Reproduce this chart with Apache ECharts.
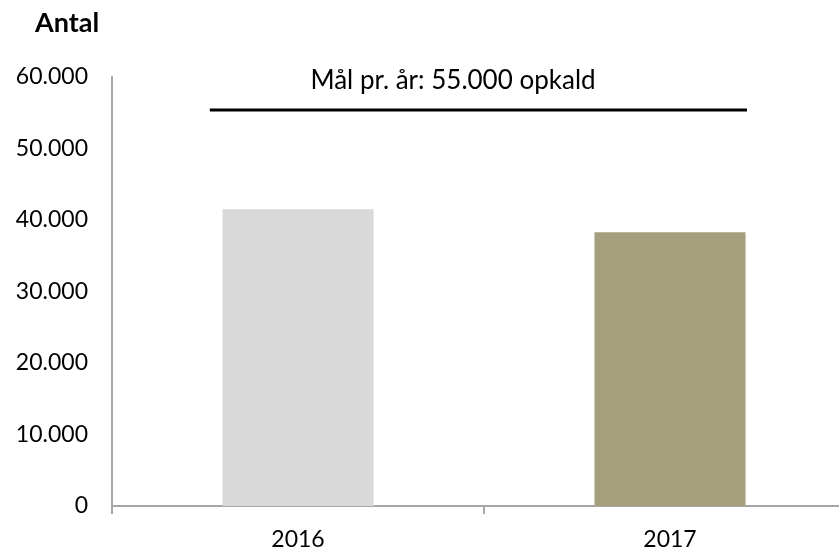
<!DOCTYPE html>
<html>
<head>
<meta charset="utf-8">
<script src="https://cdn.jsdelivr.net/npm/echarts@6/dist/echarts.min.js"></script>
<style>
    html, body { margin: 0; padding: 0; background: #fff; }
    #chart { width: 839px; height: 550px; }
</style>
</head>
<body>
<div id="chart"></div>
<script>
// data
var years = ['2016', '2017'];
var calls = [41500, 38300];
var barColors = ['#d9d9d9', '#a59f7d'];
var yTicks = [0, 10000, 20000, 30000, 40000, 50000, 60000];
// goal line: drawn level and its span, in category units (0..2)
var goalLevel = 55400;
var goalSpan = [0.263, 1.707];
var goalText = 'Mål pr. år: 55.000 opkald';

var FONT = 'Lato';

function fmt(v) {
    return String(v).replace(/\B(?=(\d{3})+(?!\d))/g, '.');
}

var chart = echarts.init(document.getElementById('chart'));

var option = {
    animation: false,
    backgroundColor: '#fff',
    // plot runs past the right edge, like the original
    grid: {
        left: 112,
        width: 744,
        top: 77,
        bottom: 44,
        outerBoundsMode: 'none'
    },
    graphic: [
        {
            type: 'text',
            left: 35,
            top: 10,
            style: { text: 'Antal', font: 'bold 27px ' + FONT, fill: '#000' }
        },
        {
            type: 'text',
            x: 453,
            y: 81,
            style: {
                text: goalText, font: '26px ' + FONT, fill: '#000',
                align: 'center', verticalAlign: 'middle'
            }
        }
    ],
    xAxis: [
        {
            type: 'category',
            data: years,
            axisLine: { lineStyle: { color: '#a6a6a6', width: 2 } },
            axisTick: { show: true, length: 8, lineStyle: { color: '#a6a6a6', width: 2 } },
            axisLabel: { color: '#000', fontFamily: FONT, fontSize: 23, margin: 22 }
        },
        {
            type: 'value',
            min: 0,
            max: 2,
            show: false
        }
    ],
    yAxis: {
        type: 'value',
        min: yTicks[0],
        max: yTicks[yTicks.length - 1],
        interval: yTicks[1] - yTicks[0],
        axisLine: { show: true, lineStyle: { color: '#a6a6a6', width: 2 } },
        axisTick: { show: false },
        splitLine: { show: false },
        axisLabel: {
            color: '#000', fontFamily: FONT, fontSize: 23, margin: 24,
            formatter: fmt
        }
    },
    series: [
        {
            type: 'bar',
            barWidth: '40.6%',
            data: calls.map(function (v, i) {
                return { value: v, itemStyle: { color: barColors[i] } };
            })
        },
        {
            type: 'line',
            xAxisIndex: 1,
            symbol: 'none',
            lineStyle: { color: '#000', width: 3 },
            data: [[goalSpan[0], goalLevel], [goalSpan[1], goalLevel]]
        }
    ]
};

chart.setOption(option);
</script>
</body>
</html>
